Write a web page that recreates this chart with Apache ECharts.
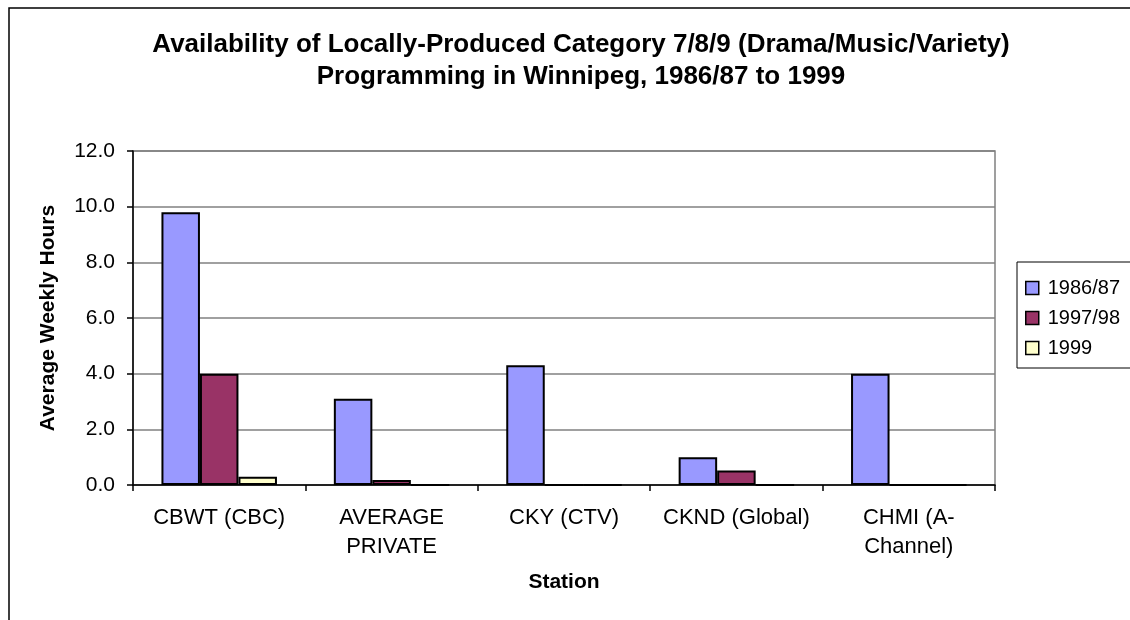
<!DOCTYPE html>
<html>
<head>
<meta charset="utf-8">
<script src="https://cdn.jsdelivr.net/npm/echarts@6/dist/echarts.min.js"></script>
<style>
html,body{margin:0;padding:0;background:#fff;}
#chart{width:1130px;height:620px;}
</style>
</head>
<body>
<div id="chart"></div>
<script>
var categories = ['CBWT (CBC)', 'AVERAGE\nPRIVATE', 'CKY (CTV)', 'CKND (Global)', 'CHMI (A-\nChannel)'];
var seriesNames = ['1986/87', '1997/98', '1999'];
var values8687 = [9.8, 3.1, 4.3, 1.0, 4.0];
var values9798 = [4.0, 0.18, 0, 0.52, 0];
var values1999 = [0.3, 0, 0, 0, 0];
var yTicks = [0, 2, 4, 6, 8, 10, 12];
var colors = ['#9999FF', '#993366', '#FFFFCC'];

var chart = echarts.init(document.getElementById('chart'), null, {renderer: 'canvas'});
var font = 'Arial, "Liberation Sans", sans-serif';
function bar(name, data, color) {
  return {
    name: name, type: 'bar', data: data,
    barGap: '0%', barCategoryGap: '33%',
    itemStyle: {color: color, borderColor: '#000', borderWidth: 2},
    emphasis: {disabled: true}
  };
}
chart.setOption({
  animation: false,
  backgroundColor: '#fff',
  textStyle: {fontFamily: font},
  graphic: [{
    type: 'rect', shape: {x: 9, y: 8, width: 1300, height: 800},
    style: {fill: 'none', stroke: '#000', lineWidth: 1.5}, z: 100, silent: true
  }],
  title: {
    text: 'Availability of Locally-Produced Category 7/8/9 (Drama/Music/Variety)\nProgramming in Winnipeg, 1986/87 to 1999',
    left: 576, top: 24, textAlign: 'center',
    textStyle: {fontFamily: font, fontSize: 26, fontWeight: 'bold', color: '#000', lineHeight: 32}
  },
  legend: {
    orient: 'vertical', left: 1017, top: 262,
    data: seriesNames,
    itemWidth: 13, itemHeight: 13, itemGap: 10,
    icon: 'rect',
    padding: [16, 40, 10, 8],
    borderColor: '#000', borderWidth: 1,
    textStyle: {fontFamily: font, fontSize: 20, color: '#000', padding: [0, 0, 0, 4]},
    itemStyle: {borderColor: '#000', borderWidth: 1.5}
  },
  grid: {left: 133, top: 151, right: 135, bottom: 135, show: true, borderColor: '#808080', borderWidth: 1.5},
  xAxis: {
    type: 'category', data: categories,
    name: 'Station', nameLocation: 'middle', nameGap: 87,
    nameTextStyle: {fontFamily: font, fontSize: 21, fontWeight: 'bold', color: '#000'},
    axisLine: {lineStyle: {color: '#000', width: 1.5}},
    axisTick: {show: true, interval: 0, length: 6, lineStyle: {color: '#000', width: 1.5}},
    axisLabel: {interval: 0, fontFamily: font, fontSize: 22, color: '#000', margin: 18, lineHeight: 29},
    splitLine: {show: false}
  },
  yAxis: {
    type: 'value', min: 0, max: 12, interval: 2,
    name: 'Average Weekly Hours', nameLocation: 'middle', nameGap: 74,
    nameTextStyle: {fontFamily: font, fontSize: 21, fontWeight: 'bold', color: '#000'},
    axisLine: {show: true, lineStyle: {color: '#000', width: 1.5}},
    axisTick: {show: true, length: 6, lineStyle: {color: '#000', width: 1.5}},
    axisLabel: {fontFamily: font, fontSize: 21, color: '#000', margin: 18,
      formatter: function (v) { return yTicks.indexOf(v) >= 0 ? v.toFixed(1) : ''; }},
    splitLine: {show: true, lineStyle: {color: '#808080', width: 1.5}}
  },
  series: [
    bar(seriesNames[0], values8687, colors[0]),
    bar(seriesNames[1], values9798, colors[1]),
    bar(seriesNames[2], values1999, colors[2])
  ]
});
</script>
</body>
</html>
